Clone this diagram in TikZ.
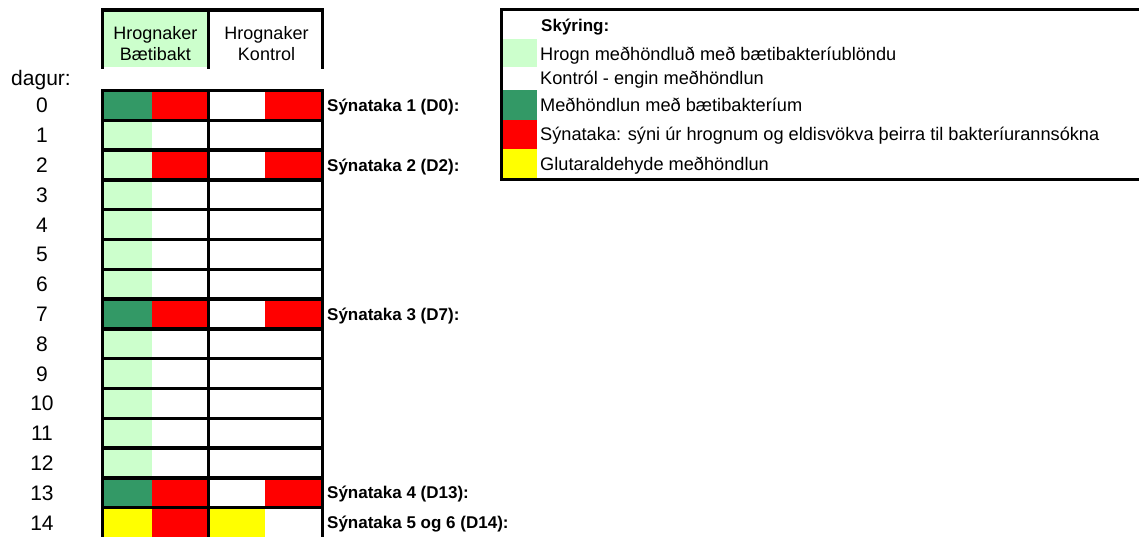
\documentclass[tikz,border=0pt]{standalone}
\usepackage{fontspec}
\setmainfont{Liberation Sans}
\definecolor{ltgreen}{HTML}{CCFFCC}
\definecolor{dkgreen}{HTML}{339966}
\definecolor{xred}{HTML}{FF0000}
\definecolor{xyellow}{HTML}{FFFF00}
\begin{document}
\begin{tikzpicture}[x=1pt,y=-1pt,
  gridline/.style={line width=3.5pt, line cap=rect},
  legline/.style={line width=3pt},
  daynum/.style={anchor=base, inner sep=0pt, font=\fontsize{21}{25}\selectfont},
  hdr/.style={anchor=base, inner sep=0pt, font=\fontsize{18}{21}\selectfont},
  sample/.style={anchor=base west, inner sep=0pt, font=\bfseries\fontsize{17}{21}\selectfont},
  legtext/.style={anchor=base west, inner sep=0pt, font=\fontsize{18.2}{21}\selectfont}]
\useasboundingbox (0,0) rectangle (1139,537);

% ---------- header ----------
\fill[ltgreen] (102.5,10) rectangle (208.3,67);
\draw[gridline] (102.5,67) -- (102.5,10) -- (322.7,10) -- (322.7,67);
\draw[gridline] (208.3,10) -- (208.3,67);
\node[hdr] (hA1) at (155.4,39.3) {Hrognaker};
\node[hdr] (hA2) at (155.4,61) {Bætibakt};
\node[hdr] (hB1) at (266.5,39.3) {Hrognaker};
\node[hdr] (hB2) at (266.5,61) {Kontrol};

\node[daynum] (dagur) at (41,86) {dagur:};

% ---------- cells ----------
\def\rh{29.8}
\foreach \i/\a/\b/\c/\d in {0/dkgreen/xred/white/xred,
  1/ltgreen/white/white/white, 2/ltgreen/xred/white/xred,
  3/ltgreen/white/white/white, 4/ltgreen/white/white/white,
  5/ltgreen/white/white/white, 6/ltgreen/white/white/white,
  7/dkgreen/xred/white/xred, 8/ltgreen/white/white/white,
  9/ltgreen/white/white/white, 10/ltgreen/white/white/white,
  11/ltgreen/white/white/white, 12/ltgreen/white/white/white,
  13/dkgreen/xred/white/xred, 14/xyellow/xred/xyellow/white}{
  \pgfmathsetmacro\yt{90.5+\rh*\i}
  \pgfmathsetmacro\yb{\yt+\rh}
  \pgfmathsetmacro\yc{\yt+\rh/2+7.5}
  \fill[\a] (102.5,\yt) rectangle (152.3,\yb);
  \fill[\b] (152.3,\yt) rectangle (208.3,\yb);
  \fill[\c] (208.3,\yt) rectangle (265,\yb);
  \fill[\d] (265,\yt) rectangle (322.7,\yb);
  \node[daynum] (day\i) at (42,\yc) {\i};
  \draw[gridline] (102.5,\yt) -- (322.7,\yt);
}
\draw[gridline] (102.5,90.5) -- (102.5,545);
\draw[gridline] (208.3,90.5) -- (208.3,545);
\draw[gridline] (322.7,90.5) -- (322.7,545);

% ---------- sample labels ----------
\node[sample] (s1) at (327,111.5) {Sýnataka 1 (D0):};
\node[sample] (s2) at (327,171.1) {Sýnataka 2 (D2):};
\node[sample] (s3) at (327,320.1) {Sýnataka 3 (D7):};
\node[sample] (s4) at (327,498.9) {Sýnataka 4 (D13):};
\node[sample] (s5) at (327,528.7) {Sýnataka 5 og 6 (D14):};

% ---------- legend ----------
\fill[ltgreen] (503,39.3) rectangle (537,67.3);
\fill[dkgreen] (503,90) rectangle (537,120);
\fill[xred] (503,120) rectangle (537,149.3);
\fill[xyellow] (503,149.3) rectangle (537,178.5);
\draw[legline] (1142,10) -- (501.5,10) -- (501.5,179.5) -- (1142,179.5);
\node[legtext, font=\bfseries\fontsize{17}{21}\selectfont] (lt0) at (541,31.5) {Skýring:};
\node[legtext] (lt1) at (540,60.5) {Hrogn meðhöndluð með bætibakteríublöndu};
\node[legtext] (lt2) at (540,84.5) {Kontról - engin meðhöndlun};
\node[legtext] (lt3) at (540,111.5) {Meðhöndlun með bætibakteríum};
\node[legtext] (lt4) at (540,141) {Sýnataka: sýni úr hrognum og eldisvökva þeirra til bakteríurannsókna};
\node[legtext] (lt5) at (540,170.5) {Glutaraldehyde meðhöndlun};
\end{tikzpicture}
\end{document}
